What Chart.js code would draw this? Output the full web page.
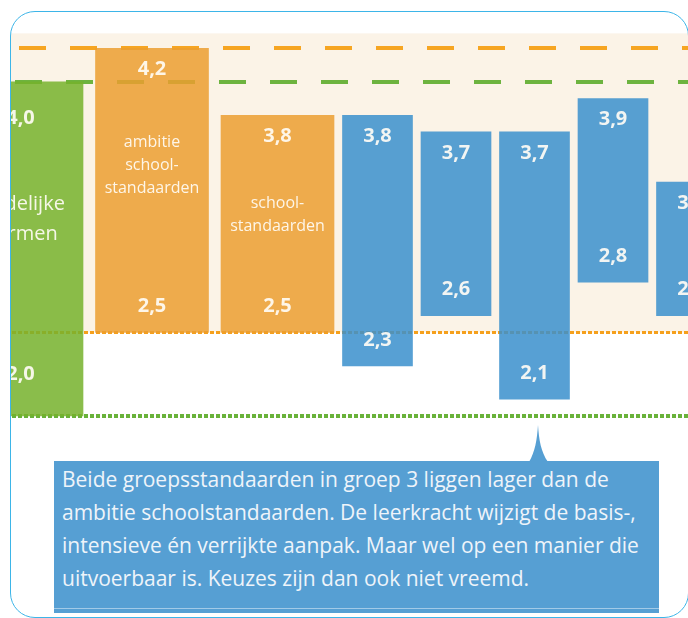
<!DOCTYPE html>
<html lang="nl">
<head>
<meta charset="UTF-8">
<title>Groepsstandaarden</title>
<script src="https://cdn.jsdelivr.net/npm/chart.js"></script>
<style>
  body { margin: 0; width: 688px; height: 618px; position: relative; overflow: hidden; background: #fff; font-family: "Open Sans", sans-serif; }
  #frame { position: absolute; left: 11px; top: 12px; width: 678px; height: 606px; border-radius: 24px; overflow: hidden; }
  #frame canvas { position: absolute; left: -11px; top: -12px; }
  #border { position: absolute; left: 10px; top: 11px; width: 677px; height: 605px; border: 1.5px solid #3db5e8; border-radius: 25px; pointer-events: none; }
  #note { position: absolute; left: 54px; top: 461px; width: 605px; height: 152px; box-sizing: border-box; padding: 2px 0 0 8px;
          background: #569fd3; color: #eef4fa; font-size: 21px; line-height: 33px; white-space: nowrap; }
  #note::after { content: ""; position: absolute; left: 0; right: 0; top: 147px; height: 1px; background: rgba(255,255,255,0.45); }
  #tip { position: absolute; left: 0; top: 0; pointer-events: none; }
</style>
</head>
<body>
<div id="frame"><canvas id="chart" width="688" height="618"></canvas></div>
<svg id="tip" width="688" height="618"><path d="M529 462 C535 452 537 440 538 425 C539 440 541 452 548 462 Z" fill="#569fd3"/></svg>
<div id="note">Beide groepsstandaarden in groep 3 liggen lager dan de<br>ambitie schoolstandaarden. De leerkracht wijzigt de basis-,<br>intensieve én verrijkte aanpak. Maar wel op een manier die<br>uitvoerbaar is. Keuzes zijn dan ook niet vreemd.</div>
<div id="border"></div>
<script>
// data
const categories = ['landelijke normen', 'ambitie schoolstandaarden', 'schoolstandaarden',
                    'groep 1', 'groep 2', 'groep 3', 'groep 4', 'groep 5'];
const highValues = [4.0, 4.2, 3.8, 3.8, 3.7, 3.7, 3.9, 3.4];
const lowValues  = [2.0, 2.5, 2.5, 2.3, 2.6, 2.1, 2.8, 2.6];
const barNotes = [['landelijke', 'normen'], ['ambitie', 'school-', 'standaarden'], ['school-', 'standaarden'],
                  [], [], [], [], []];

// layout (bars side by side, the first one partly hidden behind the frame)
const barWidths = [113, 113, 113, 70, 70, 70, 70, 70];
const firstLeft = -30;
const centers = [];
let left = firstLeft;
barWidths.forEach((w, i) => {
    centers.push(left + w / 2);
    const next = barWidths[i + 1];
    left += w + (next > 100 ? 12.5 : 8.5);
});

const GREEN = 'rgba(118,177,43,0.85)';
const ORANGE = 'rgba(235,157,48,0.85)';
const BLUE = 'rgba(58,143,204,0.85)';
const barColors = [GREEN, ORANGE, ORANGE, BLUE, BLUE, BLUE, BLUE, BLUE];

const wideIdx = [0, 1, 2];
const narrowIdx = [3, 4, 5, 6, 7];
const groups = [wideIdx, narrowIdx];

const panelTop = 4.29;
const noteShift = [-30, -25, -9];

function fmt(v) {
    return v.toFixed(1).replace('.', ',');
}

// beige panel and the norm lines, drawn under the bars
const panelPlugin = {
    id: 'panel',
    beforeDatasetsDraw(chart) {
        const {ctx, scales: {y}} = chart;
        ctx.save();
        const top = y.getPixelForValue(panelTop);
        const bottom = y.getPixelForValue(lowValues[1]);
        ctx.fillStyle = '#fbf3e7';
        ctx.fillRect(0, top, chart.width, bottom - top);

        function line(value, color, width, dash, offset) {
            const py = Math.round(y.getPixelForValue(value)) + (width % 2 ? 0.5 : 0);
            ctx.beginPath();
            ctx.strokeStyle = color;
            ctx.lineWidth = width;
            ctx.setLineDash(dash);
            ctx.lineDashOffset = offset;
            ctx.moveTo(0, py);
            ctx.lineTo(chart.width, py);
            ctx.stroke();
        }
        line(highValues[1], '#f6a522', 4, [27, 24], 32);
        line(highValues[0], '#6db33f', 4, [27, 24], 36);
        line(lowValues[1], '#f5a01c', 3, [4, 2], 0);
        line(lowValues[0], '#69b23a', 4, [4, 2], 0);
        ctx.restore();
    }
};

// value labels and the text inside the first bars
const labelPlugin = {
    id: 'labels',
    afterDatasetsDraw(chart) {
        const ctx = chart.ctx;
        ctx.save();
        ctx.textAlign = 'center';
        ctx.textBaseline = 'middle';
        ctx.fillStyle = 'rgba(255,252,245,0.92)';
        groups.forEach((idx, d) => {
            chart.getDatasetMeta(d).data.forEach((el, k) => {
                const i = idx[k];
                const x = el.x + (i === 0 ? -6 : 0);
                const top = Math.min(el.y, el.base);
                const bottom = Math.max(el.y, el.base);
                const insetTop = i === 0 ? 36 : 21;
                const insetBottom = i === 0 ? 42 : 26;
                ctx.font = 'bold 20px "Open Sans"';
                ctx.fillText(fmt(highValues[i]), x, top + insetTop);
                ctx.fillText(fmt(lowValues[i]), x, bottom - insetBottom);

                const lines = barNotes[i];
                if (lines.length) {
                    const size = i === 0 ? 20 : 16;
                    const lh = i === 0 ? 30 : 23;
                    const mid = (top + bottom) / 2 + noteShift[i];
                    ctx.font = size + 'px "Open Sans"';
                    lines.forEach((t, n) => {
                        ctx.fillText(t, x, mid - (lines.length - 1) * lh / 2 + n * lh);
                    });
                }
            });
        });
        ctx.restore();
    }
};

const ctx = document.getElementById('chart').getContext('2d');
new Chart(ctx, {
    type: 'bar',
    data: {
        datasets: groups.map((idx, d) => ({
            label: d === 0 ? 'normen' : 'groepen',
            data: idx.map(i => ({x: centers[i], y: [lowValues[i], highValues[i]]})),
            backgroundColor: idx.map(i => barColors[i]),
            borderWidth: 0,
            barThickness: barWidths[idx[0]],
            grouped: false
        }))
    },
    options: {
        responsive: false,
        animation: false,
        devicePixelRatio: 1,
        layout: {padding: {top: 15, bottom: 35, left: 0, right: 0}},
        plugins: {legend: {display: false}, tooltip: {enabled: false}},
        scales: {
            x: {type: 'linear', min: 0, max: 688, offset: false, display: false},
            y: {min: 1.0, max: 4.4, display: false}
        }
    },
    plugins: [panelPlugin, labelPlugin]
});
</script>
</body>
</html>
